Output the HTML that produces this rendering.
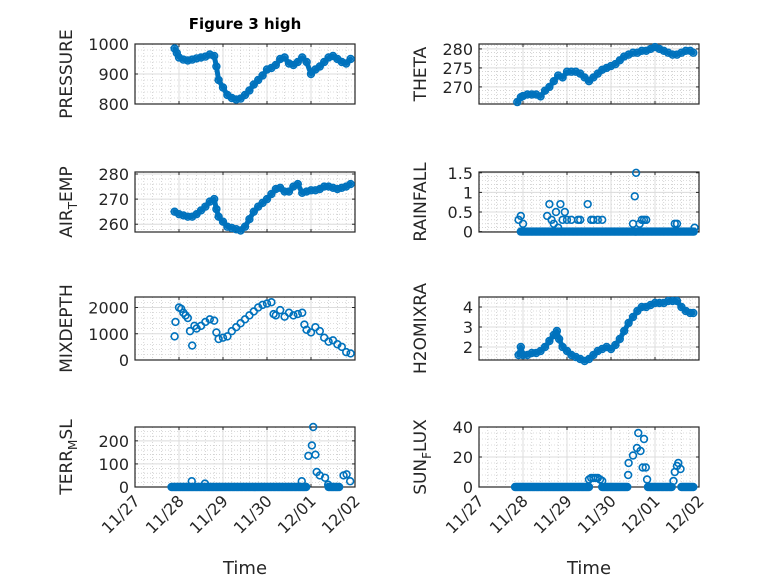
<!DOCTYPE html>
<html><head><meta charset="utf-8"><style>
body{margin:0;background:#fff;}
svg{display:block;font-family:"DejaVu Sans","Liberation Sans",sans-serif;}
</style></head><body>
<svg id="fig" width="778" height="583" viewBox="0 0 778 583">
<rect width="778" height="583" fill="#fff"/>
<text x="245" y="29" text-anchor="middle" font-size="15" font-weight="bold" fill="#000">Figure 3 high</text>
</svg>
<script>
// ---- data (days since 11/27 00:00) ----
const xTickLabels = ["11/27","11/28","11/29","11/30","12/01","12/02"];
const pressT = [0.9,0.95,1.0,1.1,1.2,1.3,1.4,1.5,1.6,1.7,1.8,1.85,1.9,2.0,2.1,2.2,2.3,2.4,2.5,2.6,2.7,2.8,2.9,3.0,3.1,3.2,3.3,3.4,3.5,3.6,3.7,3.8,3.9,4.0,4.1,4.2,4.3,4.4,4.5,4.6,4.7,4.8,4.9];
const pressV = [985,970,955,948,945,948,952,955,958,965,960,925,880,855,830,820,815,818,830,845,865,880,895,915,920,930,950,955,935,930,940,955,940,900,915,925,940,955,960,950,940,935,950];
const thetaT = [0.87,0.95,1.0,1.1,1.2,1.3,1.4,1.5,1.6,1.7,1.8,1.9,2.0,2.1,2.2,2.3,2.4,2.5,2.6,2.7,2.8,2.9,3.0,3.1,3.2,3.3,3.4,3.5,3.6,3.7,3.8,3.9,4.0,4.1,4.2,4.3,4.4,4.5,4.6,4.7,4.8,4.87];
const thetaV = [266,267.3,267.6,268,268,268,267.5,269,270,271.5,273,272.5,274,274,274,273.5,272.5,271.5,272.5,273.5,274.5,275,275.5,276,277,278,278.5,279,279,279.5,279.5,280,280.5,280,279.5,279,278.5,278.5,279,279.5,279.5,279];
const airT = [0.9,1.0,1.1,1.2,1.3,1.4,1.5,1.6,1.7,1.8,1.85,1.9,2.0,2.1,2.2,2.3,2.4,2.5,2.6,2.7,2.8,2.9,3.0,3.1,3.2,3.3,3.4,3.5,3.6,3.7,3.8,3.9,4.0,4.1,4.2,4.3,4.4,4.5,4.6,4.7,4.8,4.9];
const airV = [265,264,263.5,263,263,264,265.5,267,269,270,266,263,261,259,258.5,258,257.5,259,262,265,267,268.5,270,272,274,274.5,273,273,275,276,272.5,273,273.5,273.5,274,275,275,274.5,274,274.5,275,276];
const rainT = [0.9,0.95,1.0,1.55,1.6,1.65,1.7,1.75,1.8,1.85,1.9,1.95,2.0,2.1,2.25,2.3,2.47,2.55,2.6,2.7,2.8,3.5,3.54,3.57,3.65,3.7,3.75,3.8,4.45,4.5,4.9];
const rainV = [0.3,0.4,0.2,0.4,0.7,0.3,0.2,0.5,0.1,0.7,0.3,0.5,0.3,0.3,0.3,0.3,0.7,0.3,0.3,0.3,0.3,0.2,0.9,1.5,0.2,0.3,0.3,0.3,0.2,0.2,0.1];
const rainZeroRuns = [[0.95,4.9]];
const mixT = [0.9,0.92,1.0,1.05,1.1,1.15,1.2,1.25,1.3,1.35,1.4,1.5,1.6,1.7,1.8,1.85,1.9,2.0,2.1,2.2,2.3,2.4,2.5,2.6,2.7,2.8,2.9,3.0,3.1,3.15,3.2,3.3,3.4,3.5,3.6,3.7,3.8,3.85,3.9,4.0,4.1,4.2,4.3,4.4,4.5,4.6,4.7,4.8,4.9];
const mixV = [900,1450,2000,1950,1800,1700,1600,1100,550,1300,1200,1300,1450,1550,1500,1050,800,850,900,1100,1250,1400,1550,1700,1850,2000,2100,2150,2200,1750,1700,1900,1650,1800,1700,1750,1800,1350,1150,1050,1250,1100,850,700,750,600,500,300,250];
const h2oT = [0.9,0.95,1.0,1.1,1.2,1.3,1.4,1.5,1.6,1.7,1.77,1.82,1.9,2.0,2.1,2.2,2.3,2.4,2.5,2.6,2.7,2.8,2.9,3.0,3.1,3.2,3.3,3.4,3.5,3.6,3.7,3.8,3.9,4.0,4.1,4.2,4.3,4.4,4.5,4.6,4.7,4.8,4.87];
const h2oV = [1.6,2.0,1.6,1.6,1.7,1.7,1.8,2.0,2.3,2.6,2.8,2.4,2.0,1.8,1.6,1.5,1.4,1.3,1.4,1.6,1.8,1.9,2.0,1.9,2.1,2.4,2.8,3.2,3.5,3.8,4.0,4.0,4.1,4.2,4.2,4.2,4.3,4.3,4.3,4.0,3.8,3.7,3.7];
const terrT = [1.29,1.59,3.79,3.94,4.02,4.05,4.1,4.13,4.2,4.32,4.39,4.74,4.81,4.89];
const terrV = [25,15,25,135,180,260,140,65,50,40,10,50,55,25];
const terrZeroRuns = [[0.83,3.9],[4.4,4.66]];
const sunT = [2.5,2.55,2.6,2.65,2.7,2.75,2.8,3.39,3.4,3.5,3.59,3.62,3.67,3.72,3.75,3.79,3.82,4.42,4.45,4.5,4.53,4.58];
const sunV = [5,6,6,6,6,5,4,8,16,21,26,36,24,13,32,13,5,4,10,14,16,12];
const sunZeroRuns = [[0.82,2.5],[2.8,3.38],[3.84,4.4],[4.6,4.87]];

// ---- layout ----
const NS="http://www.w3.org/2000/svg";
const svg=document.getElementById('fig');
const BLUE="#0072BD";
function mk(tag,attrs,parent){const e=document.createElementNS(NS,tag);for(const k in attrs)e.setAttribute(k,attrs[k]);(parent||svg).appendChild(e);return e;}
const panels=[
 {name:'pressure',x0:135,x1:355,y0:44,y1:104,ymin:800,ymax:1000,ticks:[800,900,1000],t:pressT,v:pressV,band:true,label:['PRESSURE']},
 {name:'theta',x0:479,x1:699,y0:44,y1:104,ymin:265.5,ymax:281.3,ticks:[270,275,280],t:thetaT,v:thetaV,band:true,label:['THETA']},
 {name:'air-temp',x0:135,x1:355,y0:172,y1:232,ymin:256.9,ymax:280.8,ticks:[260,270,280],t:airT,v:airV,band:true,label:['AIR','T','EMP']},
 {name:'rainfall',x0:479,x1:699,y0:172,y1:232,ymin:-0.01,ymax:1.52,ticks:[0,0.5,1,1.5],t:rainT,v:rainV,zero:rainZeroRuns,label:['RAINFALL']},
 {name:'mixdepth',x0:135,x1:355,y0:297,y1:360,ymin:0,ymax:2400,ticks:[0,1000,2000],t:mixT,v:mixV,label:['MIXDEPTH']},
 {name:'h2omixra',x0:479,x1:699,y0:297,y1:360,ymin:1.35,ymax:4.5,ticks:[2,3,4],t:h2oT,v:h2oV,band:true,label:['H2OMIXRA']},
 {name:'terr-msl',x0:135,x1:355,y0:427,y1:487,ymin:0,ymax:260,ticks:[0,100,200],t:terrT,v:terrV,zero:terrZeroRuns,label:['TERR','M','SL'],xlab:true},
 {name:'sun-flux',x0:479,x1:699,y0:427,y1:487,ymin:0,ymax:40,ticks:[0,20,40],t:sunT,v:sunV,zero:sunZeroRuns,label:['SUN','F','LUX'],xlab:true}
];
panels.forEach(p=>{
 const g=mk('g',{});
 
 
 const X=t=>p.x0+(p.x1-p.x0)*t/5;
 const Y=v=>p.y1-(p.y1-p.y0)*(v-p.ymin)/(p.ymax-p.ymin);
 for(let d=0;d<5;d++)for(let k=1;k<5;k++){const x=X(d+k/5);mk('line',{x1:x,x2:x,y1:p.y0,y2:p.y1,stroke:'#bbb','stroke-width':0.6,'stroke-dasharray':'1 2'},g);}
 const step=p.ticks[1]-p.ticks[0];
 for(let v=p.ticks[0]-step;v<=p.ymax+step;v+=step/5){if(v>p.ymin&&v<p.ymax){const y=Y(v);mk('line',{x1:p.x0,x2:p.x1,y1:y,y2:y,stroke:'#bbb','stroke-width':0.6,'stroke-dasharray':'1 2'},g);}}
 for(let d=1;d<5;d++){const x=X(d);mk('line',{x1:x,x2:x,y1:p.y0,y2:p.y1,stroke:'#dcdcdc','stroke-width':1},g);}
 p.ticks.forEach(v=>{const y=Y(v);mk('line',{x1:p.x0,x2:p.x1,y1:y,y2:y,stroke:'#dcdcdc','stroke-width':1},g);
   mk('line',{x1:p.x0,x2:p.x0+3,y1:y,y2:y,stroke:'#262626'},g);mk('line',{x1:p.x1,x2:p.x1-3,y1:y,y2:y,stroke:'#262626'},g);
   const tx=mk('text',{x:p.x0-6,y:y+6,'text-anchor':'end','font-size':16,fill:'#262626'},g);tx.textContent=String(v);
   
   });
 for(let d=0;d<=5;d++){const x=X(d);mk('line',{x1:x,x2:x,y1:p.y1,y2:p.y1-3,stroke:'#262626'},g);mk('line',{x1:x,x2:x,y1:p.y0,y2:p.y0+3,stroke:'#262626'},g);
   if(p.xlab){const tx=mk('text',{x:x+6,y:p.y1+15,'text-anchor':'end','font-size':16,fill:'#262626',transform:`rotate(-45 ${x+6} ${p.y1+15})`},g);tx.textContent=xTickLabels[d];
   
   }}
 mk('rect',{x:p.x0,y:p.y0,width:p.x1-p.x0,height:p.y1-p.y0,fill:'none',stroke:'#262626','stroke-width':1.2},g);
 if(p.band){const pl=mk('polyline',{points:p.t.map((t,i)=>X(t)+','+Y(p.v[i])).join(' '),fill:'none',stroke:BLUE,'stroke-width':5,'stroke-linejoin':'round','stroke-linecap':'round'},g);
   
   }
 if(p.zero){p.zero.forEach(r=>{for(let t=r[0];t<=r[1]+1e-6;t+=0.03){const c=mk('circle',{cx:X(t),cy:Y(0),r:3.4,fill:'none',stroke:BLUE,'stroke-width':1.6},g);
   
   }});}
 p.t.forEach((t,i)=>{const c=mk('circle',{cx:X(t),cy:Y(p.v[i]),r:3.4,fill:'none',stroke:BLUE,'stroke-width':1.6},g);
   
   });
 const lx=p.x0<300?72:426, ly=(p.y0+p.y1)/2;
 const lab=mk('text',{x:lx,y:ly,'text-anchor':'middle','font-size':17,fill:'#262626',transform:`rotate(-90 ${lx} ${ly})`},g);
 
 
 p.label.forEach((s,i)=>{const ts=mk('tspan',{},lab);if(i===1){ts.setAttribute('dy',5);ts.setAttribute('font-size',12);}if(i===2){ts.setAttribute('dy',-5);}ts.textContent=s;});
 if(p.xlab){const xt=mk('text',{x:(p.x0+p.x1)/2,y:574,'text-anchor':'middle','font-size':18,fill:'#262626'},g);xt.textContent='Time';
   
   }
});
</script>
</body></html>
